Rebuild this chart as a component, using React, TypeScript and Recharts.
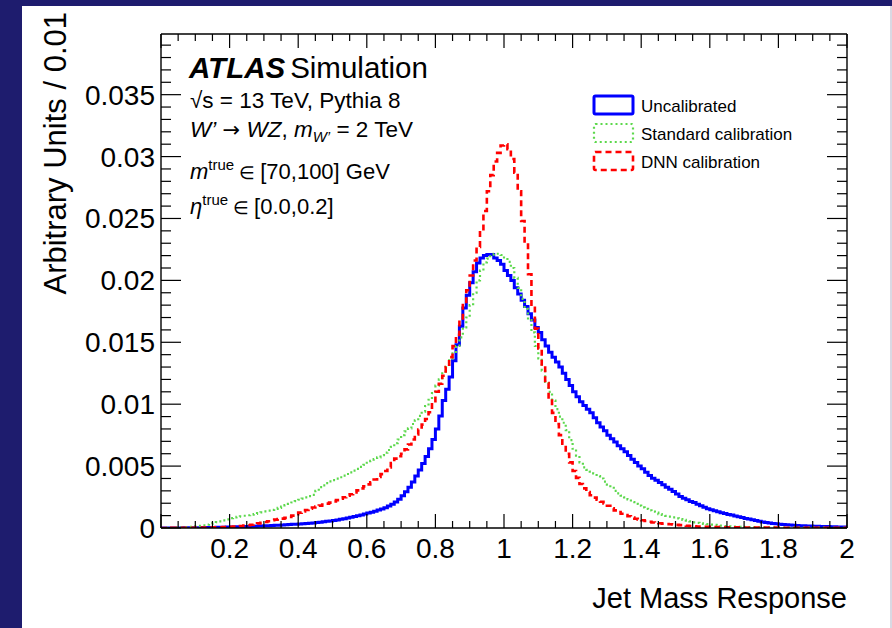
import React from 'react';
import { LineChart, Line, XAxis, YAxis } from 'recharts';

// Histogram bin width (Jet Mass Response), values in units of 1e-5 (Arbitrary Units / 0.01)
const BIN_WIDTH = 0.01;
const N_BINS = 200;

const UNCALIBRATED = [
  0, 0, 1, 1, 1, 1, 2, 2, 2, 3,
  3, 3, 4, 4, 5, 5, 6, 6, 7, 8,
  8, 9, 10, 11, 12, 13, 14, 15, 16, 17,
  18, 19, 20, 22, 23, 25, 26, 28, 30, 31,
  33, 35, 37, 39, 41, 44, 47, 50, 54, 57,
  61, 65, 70, 75, 80, 86, 92, 98, 105, 113,
  121, 128, 136, 145, 154, 164, 177, 192, 210, 232,
  260, 292, 330, 372, 420, 468, 520, 578, 640, 715,
  800, 905, 1030, 1120, 1220, 1350, 1480, 1630, 1777, 1880,
  1980, 2070, 2140, 2180, 2200, 2210, 2210, 2180, 2160, 2130,
  2080, 2040, 2000, 1940, 1890, 1840, 1790, 1730, 1680, 1620,
  1580, 1520, 1470, 1420, 1380, 1340, 1300, 1250, 1200, 1150,
  1100, 1060, 1020, 990, 960, 930, 890, 850, 815, 785,
  750, 720, 695, 665, 640, 615, 585, 555, 530, 500,
  478, 450, 425, 402, 385, 368, 350, 330, 312, 295,
  275, 255, 240, 228, 215, 205, 192, 180, 168, 156,
  148, 140, 132, 124, 117, 110, 104, 97, 90, 84,
  77, 72, 66, 60, 54, 48, 45, 41, 37, 34,
  30, 28, 26, 24, 22, 20, 19, 18, 17, 16,
  14, 14, 13, 12, 12, 11, 10, 9, 9, 8,
];

const STANDARD = [
  0, 1, 1, 2, 3, 4, 5, 7, 9, 11,
  14, 17, 21, 27, 33, 39, 47, 54, 62, 70,
  80, 86, 91, 95, 99, 103, 108, 113, 120, 127,
  134, 140, 147, 155, 163, 172, 184, 195, 206, 217,
  228, 238, 248, 258, 268, 300, 330, 345, 362, 376,
  387, 398, 410, 423, 436, 450, 464, 477, 493, 510,
  527, 542, 556, 570, 588, 608, 630, 655, 685, 715,
  750, 780, 805, 840, 870, 905, 940, 985, 1036, 1090,
  1150, 1200, 1250, 1300, 1355, 1410, 1470, 1540, 1620, 1700,
  1800, 1900, 2000, 2080, 2145, 2175, 2195, 2215, 2215, 2205,
  2185, 2150, 2100, 2020, 1940, 1850, 1770, 1680, 1580, 1470,
  1370, 1270, 1180, 1100, 1030, 960, 900, 850, 790, 710,
  640, 585, 530, 490, 470, 455, 440, 420, 400, 375,
  350, 325, 300, 280, 262, 248, 230, 210, 195, 180,
  166, 155, 143, 133, 124, 112, 105, 98, 92, 86,
  78, 72, 66, 60, 53, 46, 42, 38, 34, 31,
  28, 25, 22, 19, 16, 13, 12, 11, 10, 9,
  8, 8, 7, 7, 6, 6, 6, 5, 5, 5,
  4, 4, 4, 4, 4, 3, 3, 3, 3, 3,
  3, 3, 3, 3, 2, 2, 2, 2, 2, 2,
];

const DNN = [
  0, 0, 0, 1, 1, 1, 1, 2, 2, 2,
  3, 3, 3, 4, 4, 5, 5, 6, 7, 8,
  10, 12, 14, 16, 19, 22, 26, 31, 37, 43,
  49, 55, 62, 68, 72, 76, 82, 90, 100, 112,
  124, 134, 145, 156, 166, 174, 181, 189, 197, 205,
  215, 225, 236, 248, 260, 273, 288, 304, 320, 336,
  352, 370, 392, 412, 435, 460, 490, 525, 560, 580,
  600, 635, 675, 715, 755, 795, 835, 880, 935, 1010,
  1100, 1165, 1230, 1300, 1380, 1470, 1560, 1680, 1800, 1920,
  2040, 2160, 2270, 2400, 2560, 2720, 2850, 2960, 3030, 3090,
  3100, 3060, 2980, 2870, 2720, 2480, 2300, 2050, 1790, 1610,
  1450, 1310, 1170, 1040, 930, 840, 750, 680, 600, 530,
  460, 405, 355, 320, 290, 265, 245, 228, 212, 198,
  180, 160, 142, 128, 115, 104, 95, 85, 75, 68,
  62, 56, 50, 45, 41, 38, 35, 32, 30, 28,
  25, 23, 20, 18, 16, 14, 12, 11, 10, 9,
  8, 8, 7, 7, 6, 6, 5, 5, 5, 4,
  4, 4, 4, 3, 3, 3, 3, 3, 3, 3,
  3, 2, 2, 2, 2, 2, 2, 2, 2, 2,
  2, 2, 2, 2, 2, 2, 2, 2, 2, 2,
];

const X_TICKS = [
  0, 0.05, 0.1, 0.15, 0.2, 0.25, 0.3, 0.35, 0.4, 0.45, 0.5, 0.55, 0.6, 0.65, 0.7, 0.75,
  0.8, 0.85, 0.9, 0.95, 1, 1.05, 1.1, 1.15, 1.2, 1.25, 1.3, 1.35, 1.4, 1.45, 1.5, 1.55,
  1.6, 1.65, 1.7, 1.75, 1.8, 1.85, 1.9, 1.95, 2,
];
const X_LABELS = ['0.2', '0.4', '0.6', '0.8', '1', '1.2', '1.4', '1.6', '1.8', '2'];

const Y_TICKS = [
  0, 0.001, 0.002, 0.003, 0.004, 0.005, 0.006, 0.007, 0.008, 0.009, 0.01,
  0.011, 0.012, 0.013, 0.014, 0.015, 0.016, 0.017, 0.018, 0.019, 0.02,
  0.021, 0.022, 0.023, 0.024, 0.025, 0.026, 0.027, 0.028, 0.029, 0.03,
  0.031, 0.032, 0.033, 0.034, 0.035, 0.036, 0.037, 0.038, 0.039,
];
const Y_LABELS = ['0', '0.005', '0.01', '0.015', '0.02', '0.025', '0.03', '0.035'];

const SERIES = [
  { key: 'uncal', name: 'Uncalibrated', color: '#0000ff', width: 3, dash: undefined as string | undefined },
  { key: 'std', name: 'Standard calibration', color: '#5cd84c', width: 2.2, dash: '2 3' },
  { key: 'dnn', name: 'DNN calibration', color: '#ff0000', width: 2.6, dash: '6 4' },
];

const SCALE = 1e-5;
const data: any[] = [];
for (let i = 0; i <= N_BINS; i++) {
  const b = Math.min(i, N_BINS - 1);
  data.push({
    x: Number((i * BIN_WIDTH).toFixed(2)),
    uncal: UNCALIBRATED[b] * SCALE,
    std: STANDARD[b] * SCALE,
    dnn: DNN[b] * SCALE,
  });
}

const FONT = '"Liberation Sans", Arial, Helvetica, sans-serif';

const near = (a: number, b: number) => Math.abs(a - b) < 1e-7;
const xLabelFor = (v: number) => X_LABELS.find((l) => near(parseFloat(l), v));
const yLabelFor = (v: number) => Y_LABELS.find((l) => near(parseFloat(l), v));

const BottomTick = (props: any) => {
  const { x, y, payload } = props;
  const label = xLabelFor(payload.value);
  const major = label !== undefined || near(payload.value, 0);
  return (
    <g>
      <line x1={x} x2={x} y1={y} y2={y - (major ? 14 : 7)} stroke="#000" strokeWidth={1.2} />
      {label !== undefined && (
        <text x={x} y={y + 30} textAnchor="middle" fontSize={28} fontFamily={FONT} fill="#000">
          {label}
        </text>
      )}
    </g>
  );
};

const TopTick = (props: any) => {
  const { x, y, payload } = props;
  const major = xLabelFor(payload.value) !== undefined || near(payload.value, 0);
  return <line x1={x} x2={x} y1={y} y2={y + (major ? 14 : 7)} stroke="#000" strokeWidth={1.2} />;
};

const LeftTick = (props: any) => {
  const { x, y, payload } = props;
  const label = yLabelFor(payload.value);
  const major = label !== undefined;
  return (
    <g>
      <line x1={x} x2={x + (major ? 20 : 10)} y1={y} y2={y} stroke="#000" strokeWidth={1.2} />
      {label !== undefined && (
        <text x={x - 6} y={y + 10} textAnchor="end" fontSize={28} fontFamily={FONT} fill="#000">
          {label}
        </text>
      )}
    </g>
  );
};

const RightTick = (props: any) => {
  const { x, y, payload } = props;
  const major = yLabelFor(payload.value) !== undefined;
  return <line x1={x} x2={x - (major ? 20 : 10)} y1={y} y2={y} stroke="#000" strokeWidth={1.2} />;
};

const W = 892;
const H = 628;

const axisCommon = {
  allowDataOverflow: true,
  interval: 0 as const,
  tickSize: 0,
  tickMargin: 0,
  tickLine: false,
  axisLine: { stroke: '#000', strokeWidth: 1.4 },
};

export default function App() {
  return (
    <div style={{ position: 'fixed', left: 0, top: 0, width: W, height: H, background: '#1e1c6e', overflow: 'hidden' }}>
      <div style={{ position: 'absolute', left: 22, top: 6, width: 868, height: H - 6, background: '#ffffff' }} />
      <div style={{ position: 'absolute', left: 890, top: 6, width: 2, height: H - 6, background: '#d9d9e3' }} />
      <div style={{ position: 'absolute', left: 0, top: 0 }}>
        <LineChart width={W} height={H} data={data} margin={{ top: 33, right: 44, bottom: 99, left: 160 }}>
          <XAxis
            {...axisCommon}
            xAxisId="b"
            dataKey="x"
            type="number"
            domain={[0, 2]}
            ticks={X_TICKS}
            height={1}
            tick={BottomTick}
          />
          <XAxis
            {...axisCommon}
            xAxisId="t"
            orientation="top"
            dataKey="x"
            type="number"
            domain={[0, 2]}
            ticks={X_TICKS}
            height={1}
            tick={TopTick}
          />
          <YAxis
            {...axisCommon}
            yAxisId="l"
            type="number"
            domain={[0, 0.0399]}
            ticks={Y_TICKS}
            width={1}
            tick={LeftTick}
          />
          <YAxis
            {...axisCommon}
            yAxisId="r"
            orientation="right"
            type="number"
            domain={[0, 0.0399]}
            ticks={Y_TICKS}
            width={1}
            tick={RightTick}
          />
          {SERIES.map((s) => (
            <Line
              key={s.key}
              xAxisId="b"
              yAxisId="l"
              dataKey={s.key}
              name={s.name}
              type="stepAfter"
              stroke={s.color}
              strokeWidth={s.width}
              strokeDasharray={s.dash}
              dot={false}
              activeDot={false}
              isAnimationActive={false}
            />
          ))}
          <Line xAxisId="t" yAxisId="r" dataKey="uncal" stroke="none" dot={false} activeDot={false} isAnimationActive={false} legendType="none" />
        </LineChart>
      </div>
      <svg width={W} height={H} style={{ position: 'absolute', left: 0, top: 0, pointerEvents: 'none' }} fontFamily={FONT}>
        <text x={-12} y={66} transform="rotate(-90)" textAnchor="end" fontSize={31} fill="#000">
          Arbitrary Units / 0.01
        </text>
        <text x={847} y={608} textAnchor="end" fontSize={29} fill="#000">
          Jet Mass Response
        </text>
        <text x={189} y={78} fontSize={29.5} fill="#000">
          <tspan fontWeight="bold" fontStyle="italic">ATLAS</tspan>
          <tspan dx={5}>Simulation</tspan>
        </text>
        <text x={190} y={108} fontSize={22.5} fill="#000">
          √s = 13 TeV, Pythia 8
        </text>
        <text x={190} y={137} fontSize={22.5} fill="#000">
          <tspan fontStyle="italic">W’</tspan>
          <tspan> </tspan>
          <tspan fontFamily='"DejaVu Sans", sans-serif' fontSize={21}>→</tspan>
          <tspan> </tspan>
          <tspan fontStyle="italic">WZ</tspan>
          <tspan>, </tspan>
          <tspan fontStyle="italic">m</tspan>
          <tspan fontStyle="italic" fontSize={15} dy={5}>W’</tspan>
          <tspan dy={-5}> = 2 TeV</tspan>
        </text>
        <text x={190} y={179} fontSize={22} fill="#000">
          <tspan fontStyle="italic">m</tspan>
          <tspan fontSize={15} dy={-9}>true</tspan>
          <tspan dy={9} fontSize={18}> ∈ </tspan>
          <tspan>[70,100] GeV</tspan>
        </text>
        <text x={190} y={214} fontSize={22} fill="#000">
          <tspan fontStyle="italic">η</tspan>
          <tspan fontSize={15} dy={-9}>true</tspan>
          <tspan dy={9} fontSize={18}> ∈ </tspan>
          <tspan>[0.0,0.2]</tspan>
        </text>
        {SERIES.map((s, i) => (
          <g key={s.key}>
            <rect x={594} y={96 + i * 28} width={39} height={18} fill="none" stroke={s.color} strokeWidth={s.width} strokeDasharray={s.dash} rx={1.5} />
            <text x={641} y={112 + i * 28} fontSize={17} fill="#000">
              {s.name}
            </text>
          </g>
        ))}
      </svg>
    </div>
  );
}
